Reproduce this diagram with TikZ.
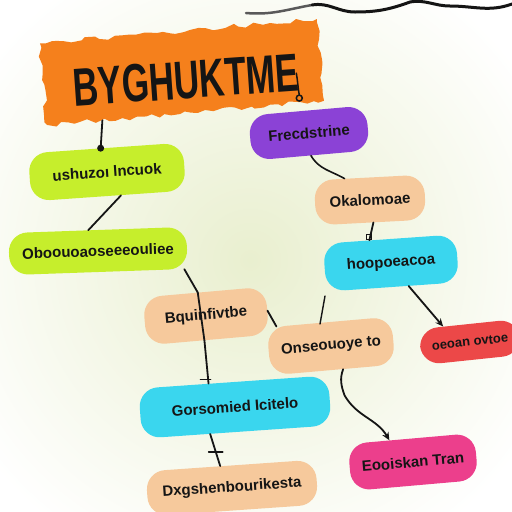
\documentclass[tikz,border=0pt]{standalone}
\usepackage{fontspec}
\setmainfont{Liberation Sans}
\usetikzlibrary{calc,decorations.pathmorphing,arrows.meta}
\definecolor{bgc}{HTML}{E9EFCF}
\definecolor{cOrange}{HTML}{F5801C}
\definecolor{cLime}{HTML}{C6EE2C}
\definecolor{cPurple}{HTML}{8B42D6}
\definecolor{cPeach}{HTML}{F6C99C}
\definecolor{cCyan}{HTML}{3AD6EE}
\definecolor{cRed}{HTML}{EC4848}
\definecolor{cPink}{HTML}{EC3F8C}
\definecolor{cInk}{HTML}{151515}
\tikzset{
  pill/.style={rectangle, rounded corners=19pt, inner sep=4pt, text=cInk,
    font=\bfseries\fontsize{15}{17}\selectfont},
  conn/.style={draw=cInk, line width=1.8pt, line cap=round},
  tip/.style={-{Stealth[length=8pt,width=7pt]}}
}
\begin{document}
\begin{tikzpicture}[x=1pt,y=-1pt]
\useasboundingbox (0,0) rectangle (512,512);
\begin{scope}
\clip (0,0) rectangle (512,512);
\fill[white] (0,0) rectangle (512,512);
\shade[inner color=bgc, outer color=white] (250,260) circle (330);
\end{scope}

% top scribble
\draw[line width=2.5pt, color=black!65, line cap=round] (246,13) to[out=-5,in=190] (312,5);
\draw[line width=3pt, cInk, line cap=round] (312,5) to[out=10,in=180] (355,12) to[out=0,in=200] (410,2) to[out=10,in=180] (450,6) to[out=0,in=200] (512,4);

% title
\node[rectangle, fill=cOrange, minimum width=278pt, minimum height=82pt, rotate=5,
  decorate, decoration={random steps, segment length=7pt, amplitude=2.5pt}] (t) at (182,72) {};
\node[rotate=4, text=cInk, font=\bfseries\fontsize{37}{40}\selectfont, inner sep=0pt] (tt) at (186,80) {\scalebox{0.95}[1.45]{BYGHUKTME}};

% nodes
\node[pill, fill=cLime,   minimum width=155pt, minimum height=48pt, rotate=4] (g1) at (107,172) {ushuzoı lncuok};
\node[pill, fill=cLime,   minimum width=178pt, minimum height=42pt, rotate=2] (g2) at (98,251) {Oboouoaoseeeouliee};
\node[pill, fill=cPurple, minimum width=118pt, minimum height=45pt, rotate=5] (pu) at (309,133) {Frecdstrine};
\node[pill, fill=cPeach,  minimum width=110pt, minimum height=45pt, rotate=3] (pr) at (370,200) {Okalomoae};
\node[pill, fill=cCyan,   minimum width=133pt, minimum height=48pt, rotate=4] (cr) at (391,263) {hoopoeacoa};
\node[pill, fill=cPeach,  minimum width=123pt, minimum height=48pt, rotate=5] (pl) at (206,316) {Bquinfivtbe};
\node[pill, fill=cPeach,  minimum width=125pt, minimum height=48pt, rotate=5] (pm) at (331,346) {Onseouoye to};
\node[pill, fill=cRed,    minimum width=100pt, minimum height=36pt, rotate=6,
  font=\bfseries\fontsize{13}{15}\selectfont] (rd) at (470,342) {oeoan ovtoe};
\node[pill, fill=cCyan,   minimum width=190pt, minimum height=50pt, rotate=4] (cb) at (235,407) {Gorsomied Icitelo};
\node[pill, fill=cPeach,  minimum width=170pt, minimum height=45pt, rotate=4] (pb) at (232,488) {Dxgshenbourikesta};
\node[pill, fill=cPink,   minimum width=127pt, minimum height=47pt, rotate=5] (pk) at (413,462) {Eooiskan Tran};

% connectors
\draw[conn] ($(t.south west)!0.2!(t.south east)$) -- ($(g1.north west)!0.47!(g1.north east)$);
\fill[cInk] ($(g1.north west)!0.47!(g1.north east)$) circle (3.5pt);
\coordinate (hk) at ($(t.south west)!0.91!(t.south east)+(0,-8)$);
\draw[conn, line width=1.5pt] ($(hk)+(-3,-22)$) to[out=-80,in=100] (hk);
\draw[conn, line width=1.5pt] ($(hk)+(0,3)$) circle (3pt);
\draw[conn] ($(g1.south west)!0.58!(g1.south east)$) -- ($(g2.north west)!0.45!(g2.north east)$);
\draw[conn] ($(g2.south west)!0.98!(g2.south east)$) -- ($(pl.north west)!0.45!(pl.north east)$);
\draw[conn] ($(pl.north west)!0.45!(pl.north east)$) -- ($(pl.south west)!0.47!(pl.south east)$);
\draw[conn] ($(pl.south west)!0.47!(pl.south east)$) -- ($(cb.north west)!0.37!(cb.north east)$);
\draw[conn] ($(cb.north west)!0.37!(cb.north east)+(-8,-4)$) -- ($(cb.north west)!0.37!(cb.north east)+(2,-4)$);
\draw[conn] ($(pl.north east)!0.5!(pl.south east)$) -- ($(pm.north west)!0.08!(pm.north east)$);
\draw[conn, line width=1.4pt] (325,296) -- (320,324);
\draw[conn, line width=1.6pt] ($(pu.south west)!0.5!(pu.south east)$) to[out=-60,in=150] ($(pr.north west)!0.28!(pr.north east)$);
\draw[conn] ($(pr.south west)!0.52!(pr.south east)$) -- ($(cr.north west)!0.35!(cr.north east)$);
\draw[conn, line width=1.2pt] ($(cr.north west)!0.35!(cr.north east)+(-3,-6)$) rectangle +(5,5);
\draw[conn, tip] ($(cr.south west)!0.62!(cr.south east)$) -- ($(rd.north west)!0.25!(rd.north east)$);
\draw[conn, tip] ($(pm.south west)!0.58!(pm.south east)$) to[out=-110,in=110] ($(pm.south west)!0.56!(pm.south east)+(4,26)$) to[out=-60,in=120] ($(pk.north west)!0.33!(pk.north east)$);
\coordinate (cbs) at ($(cb.south west)!0.36!(cb.south east)$);
\coordinate (pbn) at ($(pb.north west)!0.44!(pb.north east)$);
\draw[conn] (cbs) -- (pbn);
\coordinate (tk) at ($(cbs)!0.55!(pbn)$);
\draw[conn] ($(tk)+(-7,0)$) -- ($(tk)+(7,0)$);
\end{tikzpicture}
\end{document}
